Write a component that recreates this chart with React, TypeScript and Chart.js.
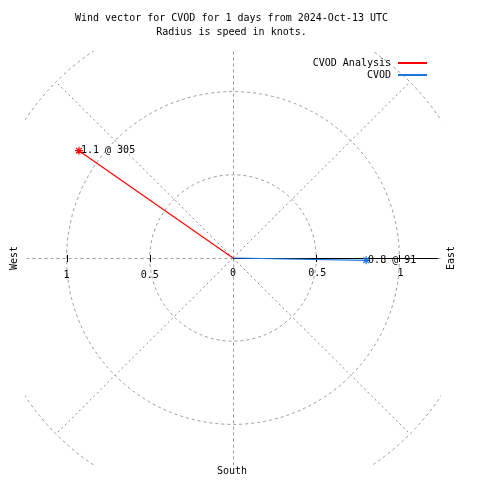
import React, { useEffect, useRef } from "react";
import { Chart, registerables } from "chart.js";

Chart.register(...registerables);

const titleLines = [
  "Wind vector for CVOD for 1 days from 2024-Oct-13 UTC",
  "Radius is speed in knots.",
];
const seriesNames = ["CVOD Analysis", "CVOD"];
const seriesColors = ["#ff0000", "#1a75e0"];
const speeds = [1.13, 0.8];
const speedLabels = ["1.1", "0.8"];
const directions = [305, 91];
const ringRadii = [0.5, 1, 1.5];
const spokeAngles = [0, 45, 90, 135, 180, 225, 270, 315];
const tickValues = [0.5, 1];
const tickLabels = ["0.5", "1"];
const axisRange = 1.25;
const compassWest = "West";
const compassEast = "East";
const compassSouth = "South";

const FONT = "10px 'DejaVu Sans Mono', monospace";
const GRID = "#999999";

const toXY = (s: number, d: number) => {
  const r = (d * Math.PI) / 180;
  return { x: s * Math.sin(r), y: s * Math.cos(r) };
};

const polarPlugin = {
  id: "polarGrid",
  beforeDatasetsDraw(chart: any) {
    const { ctx, chartArea: a, scales } = chart;
    const xs = scales.x;
    const ys = scales.y;
    const cx = xs.getPixelForValue(0);
    const cy = ys.getPixelForValue(0);
    const k = xs.getPixelForValue(1) - cx;
    ctx.save();
    ctx.beginPath();
    ctx.rect(a.left, a.top, a.right - a.left, a.bottom - a.top);
    ctx.clip();
    ctx.strokeStyle = GRID;
    ctx.lineWidth = 1;
    ctx.setLineDash([3, 3]);
    ringRadii.forEach((r) => {
      ctx.beginPath();
      ctx.arc(cx, cy, r * k, 0, Math.PI * 2);
      ctx.stroke();
    });
    spokeAngles.forEach((ang) => {
      const e = toXY(ringRadii[ringRadii.length - 1], ang);
      const diag = ang % 90 !== 0;
      ctx.setLineDash(diag ? [2, 3] : [3, 3]);
      ctx.strokeStyle = diag ? "#8a8a8a" : GRID;
      ctx.beginPath();
      const off = diag ? 0 : 0.5;
      ctx.moveTo(Math.round(cx) + off, Math.round(cy) + off);
      let ex = xs.getPixelForValue(e.x);
      let ey = ys.getPixelForValue(e.y);
      if (!diag) {
        ex = Math.round(ex) + off;
        ey = Math.round(ey) + off;
      }
      ctx.lineTo(ex, ey);
      ctx.stroke();
    });
    ctx.restore();

    // r axis
    ctx.save();
    ctx.strokeStyle = "#000";
    ctx.lineWidth = 1;
    ctx.setLineDash([]);
    const yy = Math.round(cy) + 0.5;
    ctx.beginPath();
    ctx.moveTo(Math.round(cx), yy);
    ctx.lineTo(a.right - 3, yy);
    ctx.stroke();
    tickValues.forEach((v) => {
      [v, -v].forEach((t) => {
        const px = Math.round(xs.getPixelForValue(t)) + 0.5;
        ctx.beginPath();
        ctx.moveTo(px, Math.round(cy) - 3);
        ctx.lineTo(px, Math.round(cy) + 4);
        ctx.stroke();
      });
    });
    ctx.restore();
  },
  afterDraw(chart: any) {
    const { ctx, scales } = chart;
    const xs = scales.x;
    const ys = scales.y;
    const cx = xs.getPixelForValue(0);
    const cy = ys.getPixelForValue(0);
    ctx.save();
    ctx.font = FONT;
    ctx.fillStyle = "#000";
    ctx.textBaseline = "middle";

    // title
    ctx.textAlign = "center";
    ctx.fillText(titleLines[0], 231.5, 18);
    ctx.fillText(titleLines[1], 231.5, 32);

    // tick labels
    ctx.fillText("0", cx, cy + 15);
    tickValues.forEach((v, i) => {
      ctx.fillText(tickLabels[i], xs.getPixelForValue(v) + 1, cy + 15);
      ctx.fillText(tickLabels[i], xs.getPixelForValue(-v), cy + 17);
    });

    // compass
    ctx.fillText(compassSouth, cx - 1, 471);
    ctx.save();
    ctx.translate(14, cy);
    ctx.rotate(-Math.PI / 2);
    ctx.fillText(compassWest, 0, 0);
    ctx.restore();
    ctx.save();
    ctx.translate(451, cy);
    ctx.rotate(-Math.PI / 2);
    ctx.fillText(compassEast, 0, 0);
    ctx.restore();

    // legend
    ctx.textAlign = "right";
    seriesNames.forEach((n, i) => {
      const ly = 63 + i * 12;
      ctx.fillStyle = "#000";
      ctx.fillText(n, 391, ly);
      ctx.strokeStyle = seriesColors[i];
      ctx.lineWidth = 2;
      ctx.beginPath();
      ctx.moveTo(398, ly);
      ctx.lineTo(427, ly);
      ctx.stroke();
    });

    // point labels
    ctx.textAlign = "left";
    ctx.fillStyle = "#000";
    speeds.forEach((s, i) => {
      const p = toXY(s, directions[i]);
      const px = xs.getPixelForValue(p.x);
      const py = ys.getPixelForValue(p.y);
      ctx.fillText(`${speedLabels[i]} @ ${directions[i]}`, px + 2, py);
    });
    ctx.restore();
  },
};

export default function App() {
  const ref = useRef<HTMLCanvasElement | null>(null);
  useEffect(() => {
    if (!ref.current) return;
    const datasets = speeds.map((s, i) => {
      const p = toXY(s, directions[i]);
      return {
        label: seriesNames[i],
        data: [
          { x: 0, y: 0 },
          { x: p.x, y: p.y },
        ],
        showLine: true,
        borderColor: seriesColors[i],
        backgroundColor: seriesColors[i],
        borderWidth: 1.2,
        pointRadius: [0, 4],
        pointStyle: "star",
        pointBorderColor: seriesColors[i],
        pointBorderWidth: 1.2,
        clip: false as any,
      };
    });
    const chart = new Chart(ref.current, {
      type: "scatter",
      data: { datasets },
      options: {
        animation: false,
        responsive: false,
        maintainAspectRatio: false,
        layout: { padding: { left: 25, right: 39, top: 51, bottom: 15 } },
        scales: {
          x: { type: "linear", min: -axisRange, max: axisRange, display: false },
          y: { type: "linear", min: -axisRange, max: axisRange, display: false },
        },
        plugins: {
          legend: { display: false },
          tooltip: { enabled: false },
          title: { display: false },
        },
      },
      plugins: [polarPlugin],
    });
    return () => chart.destroy();
  }, []);
  return (
    <canvas
      ref={ref}
      width={480}
      height={480}
      style={{ position: "absolute", left: 0, top: 0, width: 480, height: 480, background: "#fff" }}
    />
  );
}
